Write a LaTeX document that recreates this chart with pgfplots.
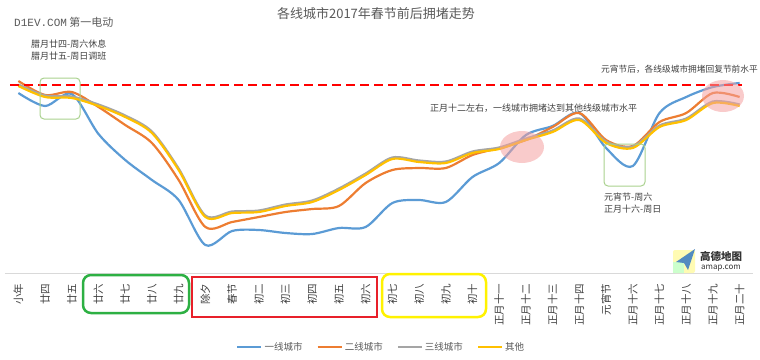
\documentclass[border=0pt]{standalone}
\usepackage{fontspec}
\setmainfont{Noto Sans CJK SC}
\newfontfamily\monofont{Liberation Mono}
\usepackage{pgfplots}
\pgfplotsset{compat=1.18}
\definecolor{c1}{HTML}{5B9BD5}
\definecolor{c2}{HTML}{ED7D31}
\definecolor{c3}{HTML}{A5A5A5}
\definecolor{c4}{HTML}{FFC000}
\definecolor{txt}{HTML}{404040}
\definecolor{ttl}{HTML}{595959}
\definecolor{gbox}{HTML}{A9D18E}
\definecolor{pinkc}{HTML}{F4A0A0}
\definecolor{boxg}{HTML}{2DB043}
\definecolor{boxr}{HTML}{E8202A}
\definecolor{boxy}{HTML}{FFF200}
\begin{document}
\begin{tikzpicture}
\useasboundingbox (0,0) rectangle (760pt,-359pt);
\begin{axis}[
  at={(5pt,-273pt)}, anchor=south west,
  scale only axis, width=748pt, height=273pt,
  xmin=-0.5, xmax=27.5, ymin=27, ymax=300,
  clip=false,
  axis y line=none,
  axis x line*=bottom,
  x axis line style={draw=black!15, line width=0.8pt, -},
  ytick=\empty,
  xtick={0,...,27},
  xtick style={draw=none},
  xticklabels={小年,廿四,廿五,廿六,廿七,廿八,廿九,除夕,春节,初二,初三,初四,初五,初六,初七,初八,初九,初十,正月十一,正月十二,正月十三,正月十四,元宵节,正月十六,正月十七,正月十八,正月十九,正月二十},
  xticklabel style={yshift=-7pt, rotate=90, anchor=east, font=\fontsize{10.5}{11}\selectfont, text=txt},
  legend style={at={(0.503,-0.272)}, anchor=center, draw=none, fill=none,
    legend columns=4, font=\fontsize{9.5}{11}\selectfont, text=ttl,
    /tikz/every even column/.append style={column sep=12pt}},
  legend image code/.code={\draw[#1] (0pt,0pt) -- (24pt,0pt);},
  every axis plot/.append style={line width=2.2pt, smooth, no markers},
]
\addplot[c1] coordinates {(0,207)(1,194)(2,206)(3,166)(4,140)(5,120)(6,100)(7,55)(8,69)(9,70)(10,67)(11,66)(12,72)(13,73)(14,97)(15,100)(16,98)(17,123)(18,137)(19,165)(20,174)(21,187)(22,152)(23,134)(24,187)(25,203)(26,213)(27,217)};
\addlegendentry{一线城市}
\addplot[c2] coordinates {(0,219)(1,205)(2,208)(3,193)(4,175)(5,157)(6,120)(7,73)(8,78)(9,83)(10,88)(11,91)(12,94)(13,117)(14,130)(15,132)(16,132)(17,145)(18,152)(19,160)(20,173)(21,187)(22,160)(23,154)(24,178)(25,187)(26,207)(27,203)};
\addlegendentry{二线城市}
\addplot[c3] coordinates {(0,215.5)(1,204.5)(2,203.5)(3,195.5)(4,184.5)(5,168.5)(6,131.5)(7,84.5)(8,88.5)(9,89.5)(10,95.5)(11,99.5)(12,111.5)(13,126.5)(14,142.5)(15,139.5)(16,138.5)(17,148.5)(18,152.5)(19,161.5)(20,169.5)(21,181.5)(22,158.5)(23,153.5)(24,174.5)(25,181.5)(26,198.5)(27,195.5)};
\addlegendentry{三线城市}
\addplot[c4] coordinates {(0,214)(1,203)(2,202)(3,194)(4,183)(5,167)(6,130)(7,83)(8,87)(9,88)(10,94)(11,98)(12,110)(13,125)(14,141)(15,138)(16,137)(17,147)(18,151)(19,160)(20,168)(21,180)(22,157)(23,152)(24,173)(25,180)(26,197)(27,194)};
\addlegendentry{其他}
\addplot[red, line width=1.8pt, sharp plot, dash pattern=on 9pt off 5pt, forget plot] coordinates {(-0.31,215.3)(27.1,215.3)};
\end{axis}
\begin{scope}[x=1pt,y=-1pt]
  % title and source
  \node[text=ttl, font=\fontsize{13}{15}\selectfont] at (376,14) {各线城市2017年春节前后拥堵走势};
  \node[anchor=west, text=ttl, font=\fontsize{11}{13}\selectfont, inner sep=0pt] at (14,22) {{\monofont D1EV.COM} 第一电动};
  % annotations
  \node[anchor=west, text=txt, font=\fontsize{9}{12}\selectfont, align=left, inner sep=0pt] at (31,50) {腊月廿四-周六休息\\腊月廿五-周日调班};
  \node[anchor=east, text=txt, font=\fontsize{8.7}{10}\selectfont, inner sep=0pt] at (758,69) {元宵节后，各线级城市拥堵回复节前水平};
  \node[anchor=west, text=txt, font=\fontsize{9}{10}\selectfont, inner sep=0pt] at (430,108) {正月十二左右，一线城市拥堵达到其他线级城市水平};
  \node[anchor=west, text=txt, font=\fontsize{9}{12.5}\selectfont, align=left, inner sep=0pt] at (604,203) {元宵节-周六\\正月十六-周日};
  % green highlight boxes
  \draw[gbox, line width=1pt, rounded corners=4pt] (40,78) rectangle (80,119);
  \draw[gbox, line width=1pt, rounded corners=4pt] (604,144) rectangle (645,186);
  % pink ellipses
  \fill[pinkc, opacity=0.55] (522,147) ellipse [x radius=22, y radius=16];
  \fill[pinkc, opacity=0.55] (723,96) ellipse [x radius=21, y radius=16];
  % tick label boxes
  \draw[boxg, line width=2.5pt, rounded corners=8pt] (83,275) rectangle (189,313);
  \draw[boxr, line width=2.5pt] (192,277) rectangle (377,317);
  \draw[boxy, line width=2.5pt, rounded corners=8pt] (382,274) rectangle (486,317);
  % amap logo
  \fill[yellow!30, rounded corners=2pt] (673,250) rectangle (695,273);
  \fill[green!20] (673,262) rectangle (684,273);
  \fill[c1!90!black] (676,262) -- (695,249) -- (688,270) -- (684,263) -- cycle;
  \node[anchor=west, text=black!80, font=\fontsize{10.5}{11}\selectfont\bfseries, inner sep=0pt] at (700,256) {高德地图};
  \node[anchor=west, text=black!80, font=\fontsize{8}{9}\selectfont, inner sep=0pt] at (701,268) {amap.com};
\end{scope}
\end{tikzpicture}
\end{document}
